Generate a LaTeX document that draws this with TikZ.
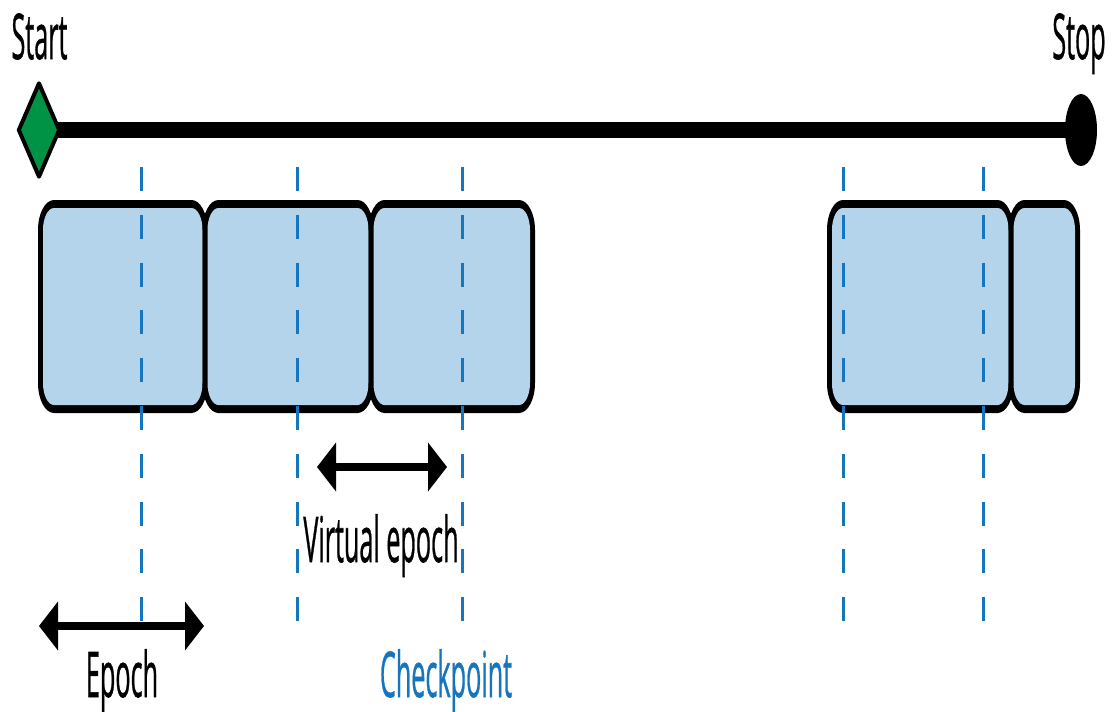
\documentclass[tikz,border=0pt]{standalone}
\usepackage{fontspec}
\setmainfont{Open Sans}
\newfontfamily\lblfont{Open Sans}[FakeBold=1]
\usetikzlibrary{arrows.meta,shapes.geometric,backgrounds}
\definecolor{blockblue}{RGB}{179,212,234}
\definecolor{cpblue}{RGB}{22,117,188}
\definecolor{startgreen}{RGB}{0,146,69}
% elliptically rounded rectangle: x1 y1 x2 y2 rx ry colour
\newcommand\rrfill[7]{%
  \fill[#7] (#1+#5,#2) -- (#3-#5,#2)
    arc[start angle=-90,end angle=0,x radius=#5,y radius=#6]
    -- (#3,#4-#6)
    arc[start angle=0,end angle=90,x radius=#5,y radius=#6]
    -- (#1+#5,#4)
    arc[start angle=90,end angle=180,x radius=#5,y radius=#6]
    -- (#1,#2+#6)
    arc[start angle=180,end angle=270,x radius=#5,y radius=#6]
    -- cycle;}
\newcommand\epblock[2]{%
  \rrfill{#1-2.5}{200}{#2+2.5}{413}{16}{30}{black}%
  \rrfill{#1+2.5}{208}{#2-2.5}{405}{11}{22}{blockblue}}
\begin{document}
\begin{tikzpicture}[x=1pt,y=-1pt,
  lbl/.style={anchor=base,xscale=0.40,inner sep=0pt,
    font=\lblfont\fontsize{63}{70}\selectfont},
  ckline/.style={cpblue,line width=3pt,dash pattern=on 24pt off 23.8pt},
  span/.style={line width=8pt,
    {Triangle[length=19pt,width=48pt]}-{Triangle[length=19pt,width=48pt]}}]
\useasboundingbox (0,0) rectangle (1112,712);
% timeline
\node[diamond,draw=black,line width=4pt,line join=round,fill=startgreen,
  minimum width=42pt,minimum height=95pt,inner sep=0pt] (start) at (39,130) {};
\node[ellipse,fill=black,minimum width=32pt,minimum height=72pt,
  inner sep=0pt] (stop) at (1081,130) {};
\begin{pgfonlayer}{background}
\draw[line width=16pt] (start.center) -- (stop.center);
\end{pgfonlayer}
\node[lbl] (startlbl) at (39.5,59) {Start};
\node[lbl] (stoplbl) at (1079,59) {Stop};
% epochs
\epblock{40.5}{205}
\epblock{205}{371}
\epblock{371}{532.5}
\epblock{829.5}{1011}
\epblock{1011}{1077.5}
% checkpoints
\foreach \i/\x in {1/141,2/297,3/462,4/843,5/983}{
  \coordinate (c\i t) at (\x,167);
  \coordinate (c\i b) at (\x,622);
  \draw[ckline] (c\i t) -- (c\i b);
}
% spans
\coordinate (ea) at (39,626);
\coordinate (eb) at (204,626);
\draw[span] (ea) -- (eb);
\coordinate (va) at (317,467);
\coordinate (vb) at (447,467);
\draw[span] (va) -- (vb);
\node[lbl] (epochlbl) at (122,697) {Epoch};
\node[lbl] (vepochlbl) at (381,562) {Virtual epoch};
\node[lbl,text=cpblue] (cplbl) at (446,697) {Checkpoint};
\end{tikzpicture}
\end{document}
